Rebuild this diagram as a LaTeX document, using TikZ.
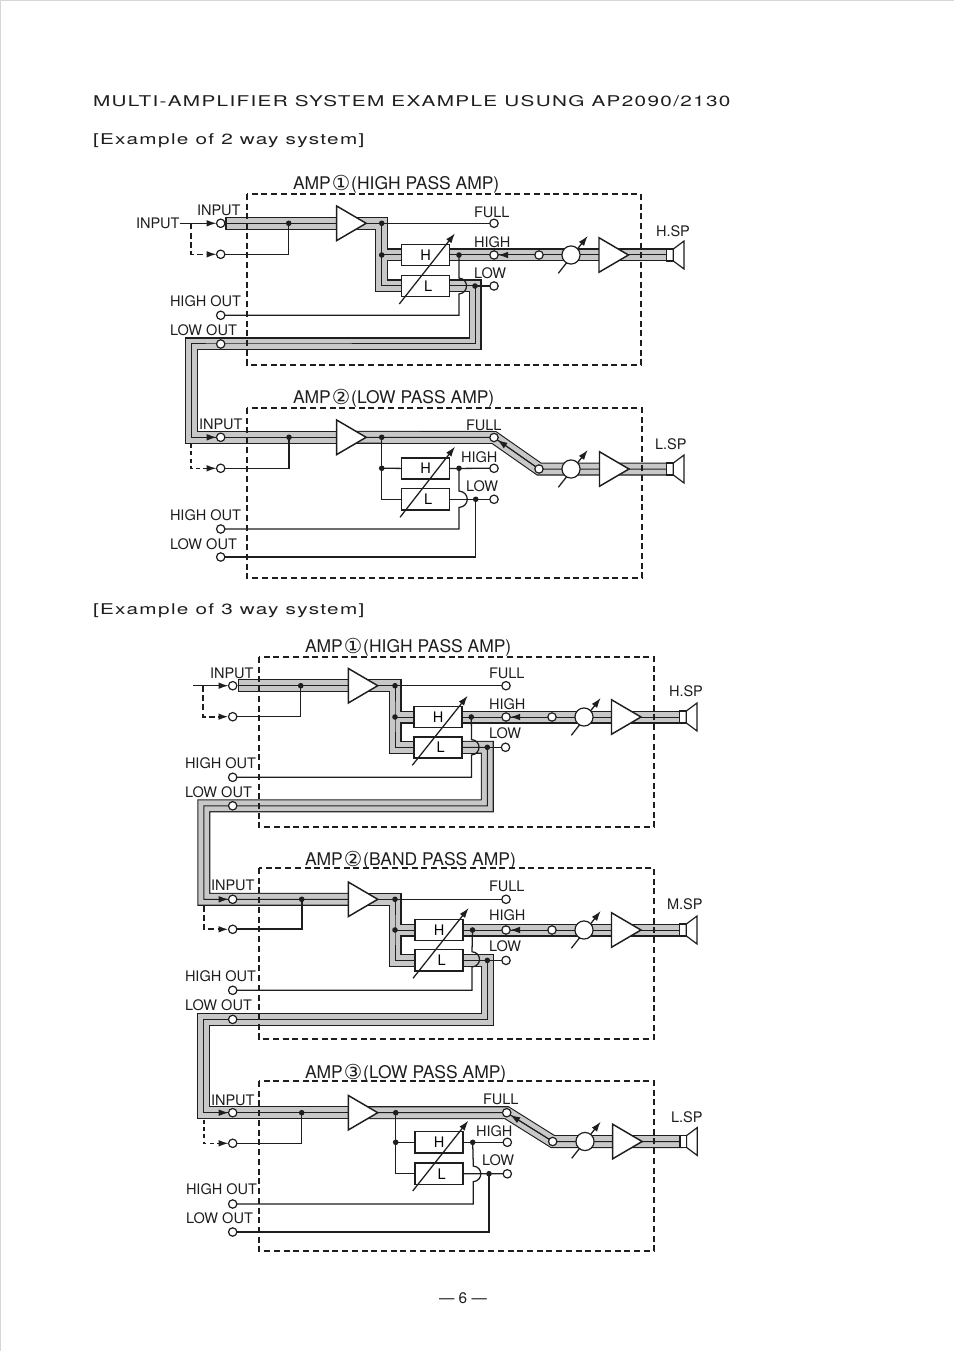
\documentclass[tikz,border=0pt]{standalone}
\usepackage{fontspec}
\usepackage{amsmath,amssymb,graphicx,xcolor}
\usetikzlibrary{arrows.meta,shapes.geometric}
\setmainfont{TeX Gyre Heros}
\newfontfamily\circfont{DejaVu Sans}
\newfontfamily\widefont[FakeStretch=1.4,LetterSpace=9]{TeX Gyre Heros}
\newcommand{\circno}[1]{\kern0.7pt\raisebox{-1pt}{\circfont\fontsize{15.5}{15}\selectfont #1}\kern0.7pt}
\pgfdeclarelayer{wires}
\pgfsetlayers{wires,main}

\begin{document}
\begin{tikzpicture}[x=0.75pt,y=0.75pt,yscale=-1,xscale=1,
  term/.style={circle,draw={rgb,255:red,30;green,30;blue,30},fill=white,line width=0.9pt,minimum size=6.3pt,inner sep=0pt,outer sep=0pt},
  pot/.style={term,minimum size=13.6pt},
  jdot/.style={circle,fill={rgb,255:red,30;green,30;blue,30},minimum size=4.2pt,inner sep=0pt,outer sep=0pt},
  amp/.style={isosceles triangle,isosceles triangle stretches,shape border rotate=0,anchor=lower side,draw={rgb,255:red,30;green,30;blue,30},fill=white,line width=1.1pt,minimum height=22.1pt,minimum width=25.9pt,inner sep=0pt,outer sep=0pt},
  filt/.style={rectangle,draw={rgb,255:red,30;green,30;blue,30},fill=white,line width=1.1pt,minimum width=35.7pt,minimum height=16pt,inner sep=0pt,outer sep=0pt,font=\fontsize{10.9}{12}\selectfont},
  spk/.style={rectangle,draw={rgb,255:red,30;green,30;blue,30},fill=white,line width=0.9pt,minimum width=5pt,minimum height=9pt,inner sep=0pt,outer sep=0pt},
  cone/.style={draw={rgb,255:red,30;green,30;blue,30},fill=white,line width=0.9pt},
  bus/.style={draw={rgb,255:red,30;green,30;blue,30},line width=0.75pt,preaction={draw={rgb,255:red,30;green,30;blue,30},line width=9.75pt},preaction={draw={rgb,255:red,200;green,200;blue,200},line width=8.1pt}},
  wire/.style={draw={rgb,255:red,30;green,30;blue,30},line width=0.95pt},
  wiretip/.style={-{Latex[length=7.5pt,width=5pt]}},
  bustip/.style={wire,wiretip,line width=0.75pt},
  frame/.style={draw={rgb,255:red,30;green,30;blue,30},line width=1.3pt,dash pattern=on 4.5pt off 2.8pt},
  thinframe/.style={frame,line width=0.8pt},
  lbl/.style={anchor=base west,inner sep=0pt,outer sep=0pt,text={rgb,255:red,30;green,30;blue,30},font=\fontsize{10.9}{12}\selectfont},
  ttl/.style={lbl,font=\fontsize{13.1}{15}\selectfont},
  heading/.style={lbl,font=\widefont\fontsize{11.1}{13}\selectfont}
]
\useasboundingbox (0,0) rectangle (954,1351);

\draw [color={rgb,255:red,215;green,215;blue,215},line width=0.9pt] (0.5,1351) -- (0.5,0.5) -- (954,0.5) ;

\node [heading] (headmain) at (93,106.7) {MULTI-AMPLIFIER SYSTEM EXAMPLE USUNG AP2090/2130};

\node [heading] (headtwo) at (93,145) {[Example of 2 way system]};

\node [heading] (headthree) at (93,614.5) {[Example of 3 way system]};

\node [lbl,anchor=base,font=\fontsize{11.5}{13}\selectfont] (pageno) at (463,1303) {— 6 —};

\draw [frame] (247,194) rectangle (641,365) ;

\draw [thinframe] (247,408) rectangle (642,578) ;

\draw [frame] (259,657) rectangle (654,827) ;

\draw [frame] (259,868) rectangle (654,1039) ;

\draw [thinframe] (259,1081) rectangle (654,1251) ;

\node [ttl] (titlea) at (293,189.5) {AMP\circno{①}(HIGH PASS AMP)};

\node [lbl] (lblina) at (136,228.5) {INPUT};

\node [lbl] (lblinputa) at (197,216) {INPUT};

\node [lbl] (lblhoa) at (170,306.5) {HIGH OUT};

\node [lbl] (lblloa) at (170,335.5) {LOW OUT};

\node [lbl] (lblfua) at (474,218) {FULL};

\node [lbl] (lblhia) at (474,248) {HIGH};

\node [lbl] (lbllwa) at (474,279) {LOW};

\node [lbl] (lblspa) at (656,236.5) {H.SP};

\node [term] (ina) at (220.7,223.3) {};

\node [term] (sela) at (220.7,254.3) {};

\node [term] (hoa) at (220.7,315.3) {};

\node [term] (loa) at (220.7,344) {};

\node [term] (fua) at (494,223.3) {};

\node [term] (hia) at (494,255) {};

\node [term] (lwa) at (494,286) {};

\node [term] (joina) at (539,255) {};

\node [pot] (pota) at (571,255) {};

\node [amp] (ampa) at (336.7,223.3) {};

\node [amp] (pwra) at (599,255) {};

\node [filt] (boxha) at (425.5,255) {H};

\node [filt] (boxla) at (425.5,286) {\kern4pt L};

\node [spk] (spa) at (670,255) {};

\draw [cone] (spa.north east) -- ++(10.7,-8) -- ++(0,28) -- (spa.south east) -- cycle ;

\node [jdot] (dina) at (288.7,223.3) {};

\node [jdot] (dampa) at (381.7,223.3) {};

\node [jdot] (dsplita) at (381.7,255) {};

\node [jdot] (dha) at (459,255) {};

\node [jdot] (dla) at (475,286) {};

\coordinate (busa) at (226,223.3);

\coordinate (dasha) at (191,223.3);

\coordinate (turna) at (191.3,344);

\coordinate (potsa) at (558.3,273.3);

\coordinate (potea) at (587.7,236);

\coordinate (slantsa) at (399.3,304);

\coordinate (slantea) at (455,233.3);

\coordinate (jsa) at (459,278);

\coordinate (jea) at (459,294);

\draw [wire,wiretip] (slantsa) -- (slantea) ;

\node [ttl] (titleb) at (293,403) {AMP\circno{②}(LOW PASS AMP)};

\node [lbl] (lblinputb) at (199,429) {INPUT};

\node [lbl] (lblhob) at (170,520) {HIGH OUT};

\node [lbl] (lbllob) at (170,549) {LOW OUT};

\node [lbl] (lblfub) at (466,430) {FULL};

\node [lbl] (lblhib) at (461,462) {HIGH};

\node [lbl] (lbllwb) at (466,491) {LOW};

\node [lbl] (lblspb) at (655,449) {L.SP};

\node [term] (inb) at (220.7,437.3) {};

\node [term] (selb) at (220.7,468.3) {};

\node [term] (hob) at (220.7,529) {};

\node [term] (lob) at (220.7,557) {};

\node [term] (fub) at (494,437.5) {};

\node [term] (hib) at (494,468.3) {};

\node [term] (lwb) at (494,499.3) {};

\node [term] (joinb) at (539,469) {};

\node [pot] (potb) at (571,469) {};

\node [amp] (ampb) at (336.7,437.3) {};

\node [amp] (pwrb) at (599.5,469) {};

\node [filt] (boxhb) at (425.5,468.5) {H};

\node [filt] (boxlb) at (425.5,499.3) {\kern4pt L};

\node [spk] (spb) at (670,469) {};

\draw [cone] (spb.north east) -- ++(10.7,-8) -- ++(0,28) -- (spb.south east) -- cycle ;

\node [jdot] (dinb) at (289,437.3) {};

\node [jdot] (dampb) at (381.7,437.3) {};

\node [jdot] (dsplitb) at (381.7,468.3) {};

\node [jdot] (dhb) at (459,468.3) {};

\node [jdot] (dlb) at (475.7,499.3) {};

\coordinate (dashb) at (191,444);

\coordinate (potsb) at (558.3,487.3);

\coordinate (poteb) at (587.7,450);

\coordinate (slantsb) at (400,517.3);

\coordinate (slanteb) at (455,446.7);

\coordinate (jsb) at (459,491);

\coordinate (jeb) at (459,507.5);

\draw [wire,wiretip] (slantsb) -- (slanteb) ;

\node [ttl] (titlec) at (305,652) {AMP\circno{①}(HIGH PASS AMP)};

\node [lbl] (lblinputc) at (210,678) {INPUT};

\node [lbl] (lblhoc) at (185,768) {HIGH OUT};

\node [lbl] (lblloc) at (185,797) {LOW OUT};

\node [lbl] (lblfuc) at (489,678) {FULL};

\node [lbl] (lblhic) at (489,709) {HIGH};

\node [lbl] (lbllwc) at (489,738) {LOW};

\node [lbl] (lblspc) at (669,696) {H.SP};

\node [term] (inc) at (232.7,685.7) {};

\node [term] (selc) at (232.7,716.7) {};

\node [term] (hoc) at (232.7,777.3) {};

\node [term] (loc) at (232.7,805.8) {};

\node [term] (fuc) at (506,685.7) {};

\node [term] (hic) at (506,717) {};

\node [term] (lwc) at (505.5,747.3) {};

\node [term] (joinc) at (552,717) {};

\node [pot] (potc) at (584,717) {};

\node [amp] (ampc) at (348.3,685.7) {};

\node [amp] (pwrc) at (611.5,717) {};

\node [filt] (boxhc) at (438,717) {H};

\node [filt] (boxlc) at (438,747.5) {\kern4pt L};

\node [spk] (spc) at (683,717) {};

\draw [cone] (spc.north east) -- ++(10.7,-8) -- ++(0,28) -- (spc.south east) -- cycle ;

\node [jdot] (dinc) at (300.7,685.7) {};

\node [jdot] (dampc) at (395,685.7) {};

\node [jdot] (dsplitc) at (395,717) {};

\node [jdot] (dhc) at (471.3,717) {};

\node [jdot] (dlc) at (487.3,747.3) {};

\coordinate (busc) at (238.3,685.7);

\coordinate (startc) at (193.3,685.7);

\coordinate (dashc) at (202.7,685.7);

\coordinate (turnc) at (203.8,805.8);

\coordinate (potsc) at (571.3,735.3);

\coordinate (potec) at (600.7,698);

\coordinate (slantsc) at (412.3,765.3);

\coordinate (slantec) at (467.7,695.7);

\coordinate (jsc) at (471.5,739.5);

\coordinate (jec) at (471.5,755);

\draw [wire,wiretip] (slantsc) -- (slantec) ;

\node [ttl] (titled) at (305,865) {AMP\circno{②}(BAND PASS AMP)};

\node [lbl] (lblinputd) at (211,890) {INPUT};

\node [lbl] (lblhod) at (185,981) {HIGH OUT};

\node [lbl] (lbllod) at (185,1010) {LOW OUT};

\node [lbl] (lblfud) at (489,891) {FULL};

\node [lbl] (lblhid) at (489,920) {HIGH};

\node [lbl] (lbllwd) at (489,951) {LOW};

\node [lbl] (lblspd) at (667,909) {M.SP};

\node [term] (ind) at (232.7,899.3) {};

\node [term] (seld) at (232.7,929.3) {};

\node [term] (hod) at (232.7,990.3) {};

\node [term] (lod) at (232.7,1019.4) {};

\node [term] (fud) at (506,899.3) {};

\node [term] (hid) at (506,930) {};

\node [term] (lwd) at (506,960.4) {};

\node [term] (joind) at (552,930) {};

\node [pot] (potd) at (584,930) {};

\node [amp] (ampd) at (348.3,899.3) {};

\node [amp] (pwrd) at (611.5,930) {};

\node [filt] (boxhd) at (439,930) {H};

\node [filt] (boxld) at (439,960.4) {\kern4pt L};

\node [spk] (spd) at (683,930) {};

\draw [cone] (spd.north east) -- ++(10.7,-8) -- ++(0,28) -- (spd.south east) -- cycle ;

\node [jdot] (dind) at (301.7,899.3) {};

\node [jdot] (dampd) at (395,899.3) {};

\node [jdot] (dsplitd) at (395,930) {};

\node [jdot] (dhd) at (472.5,930) {};

\node [jdot] (dld) at (487.3,960.4) {};

\coordinate (dashd) at (204,905.5);

\coordinate (turnd) at (203.8,1019.4);

\coordinate (potsd) at (571.3,948.3);

\coordinate (poted) at (600.7,911);

\coordinate (slantsd) at (413,978.3);

\coordinate (slanted) at (468.7,908);

\coordinate (jsd) at (472,951.7);

\coordinate (jed) at (472,967);

\draw [wire,wiretip] (slantsd) -- (slanted) ;

\node [ttl] (titlee) at (305,1078) {AMP\circno{③}(LOW PASS AMP)};

\node [lbl] (lblinpute) at (211,1105) {INPUT};

\node [lbl] (lblhoe) at (186,1194) {HIGH OUT};

\node [lbl] (lblloe) at (186,1223) {LOW OUT};

\node [lbl] (lblfue) at (483,1104) {FULL};

\node [lbl] (lblhie) at (476,1136) {HIGH};

\node [lbl] (lbllwe) at (482,1165) {LOW};

\node [lbl] (lblspe) at (671,1122) {L.SP};

\node [term] (ine) at (232.7,1112.7) {};

\node [term] (sele) at (232.7,1143.3) {};

\node [term] (hoe) at (232.7,1204) {};

\node [term] (loe) at (232.7,1232) {};

\node [term] (fue) at (506.7,1112.7) {};

\node [term] (hie) at (507.3,1142.3) {};

\node [term] (lwe) at (507.3,1173.8) {};

\node [term] (joine) at (552.7,1141.5) {};

\node [pot] (pote) at (585,1141.5) {};

\node [amp] (ampe) at (348.3,1112.7) {};

\node [amp] (pwre) at (612.7,1141.5) {};

\node [filt] (boxhe) at (439,1142.3) {H};

\node [filt] (boxle) at (439,1173.7) {\kern4pt L};

\node [spk] (spe) at (683.3,1141.5) {};

\draw [cone] (spe.north east) -- ++(10.7,-8) -- ++(0,28) -- (spe.south east) -- cycle ;

\node [jdot] (dine) at (301.7,1112.7) {};

\node [jdot] (dampe) at (395.7,1112.7) {};

\node [jdot] (dsplite) at (395.7,1142.3) {};

\node [jdot] (dhe) at (472.7,1142.3) {};

\node [jdot] (dle) at (489,1173.7) {};

\coordinate (dashe) at (204,1119.5);

\coordinate (potse) at (571.7,1158.3);

\coordinate (potee) at (600.7,1121.7);

\coordinate (slantse) at (412.7,1191);

\coordinate (slantee) at (468.3,1120.7);

\coordinate (jse) at (473.3,1166);

\coordinate (jee) at (473.3,1181.7);

\draw [wire,wiretip] (slantse) -- (slantee) ;

\begin{pgfonlayer}{wires}

\draw [bus] (busa) -- (ampa.center) ;

\draw [bus] (ampa.center) -- (dampa.center) -- (dsplita.center) |- (boxla.center) (dsplita.center) -- (boxha.center) ;

\draw [bus] (boxha.center) -- (spa.center) ;

\draw [bus] (boxla.center) -- (dla.center) |- (loa.center) -- (turna) |- (inb.center) -- (ampb.center) ;

\draw [bus] (ampb.center) -- (fub.center) -- (joinb.center) -- (spb.center) ;

\draw [bus] (busc) -- (ampc.center) ;

\draw [bus] (ampc.center) -- (dampc.center) -- (dsplitc.center) |- (boxlc.center) (dsplitc.center) -- (boxhc.center) ;

\draw [bus] (boxhc.center) -- (spc.center) ;

\draw [bus] (boxlc.center) -- (dlc.center) |- (loc.center) -- (turnc) |- (ind.center) -- (ampd.center) ;

\draw [bus] (ampd.center) -- (dampd.center) -- (dsplitd.center) |- (boxld.center) (dsplitd.center) -- (boxhd.center) ;

\draw [bus] (boxhd.center) -- (spd.center) ;

\draw [bus] (boxld.center) -- (dld.center) |- (lod.center) -- (turnd) |- (ine.center) -- (ampe.center) ;

\draw [bus] (ampe.center) -- (fue.center) -- (joine.center) -- (spe.center) ;

\draw [wire] (226,217) -- (226,230) ;

\draw [wire] (238.3,679.4) -- (238.3,692) ;

\draw [wire,wiretip] (lblina.east |- ina) -- (ina) ;

\draw [wire,dash pattern=on 4.5pt off 2.5pt,wiretip] (dasha) |- (sela) ;

\draw [wire] (dina.center) |- (sela.center) ;

\draw [wire] (dampa.center) -- (fua.center) ;

\draw [bustip] (joina.center) -- (hia) ;

\draw [wire] (dla.center) -- (lwa.center) ;

\draw [wire] (dha.center) -- (jsa) .. controls +(10,1) and +(10,-1) .. (jea) |- (hoa.center) ;

\draw [wire,wiretip] (potsa) -- (potea) ;

\draw [bustip] (turna |- inb) -- (inb) ;

\draw [wire,dash pattern=on 3pt off 2.5pt,wiretip] (dashb) |- (selb) ;

\draw [wire] (dinb.center) |- (selb.center) ;

\draw [wire] (dampb.center) |- (boxlb.center) ;

\draw [wire] (dsplitb.center) -- (boxhb.center) ;

\draw [wire] (boxhb.center) -- (hib.center) ;

\draw [wire] (boxlb.center) -- (lwb.center) ;

\draw [bustip] (joinb.center) -- (fub) ;

\draw [wire] (dlb.center) |- (lob.center) ;

\draw [wire] (dhb.center) -- (jsb) .. controls +(11,1) and +(11,-1) .. (jeb) |- (hob.center) ;

\draw [wire,wiretip] (potsb) -- (poteb) ;

\draw [wire,wiretip] (startc) -- (inc) ;

\draw [wire,dash pattern=on 4.5pt off 2.5pt,line width=1.3pt,wiretip] (dashc) |- (selc) ;

\draw [wire] (dinc.center) |- (selc.center) ;

\draw [wire] (dampc.center) -- (fuc.center) ;

\draw [bustip] (joinc.center) -- (hic) ;

\draw [wire] (dlc.center) -- (lwc.center) ;

\draw [wire] (dhc.center) -- (jsc) .. controls +(10,1) and +(10,-1) .. (jec) |- (hoc.center) ;

\draw [wire,wiretip] (potsc) -- (potec) ;

\draw [bustip] (turnc |- ind) -- (ind) ;

\draw [wire,dash pattern=on 4.5pt off 2.5pt,line width=1.3pt,wiretip] (dashd) |- (seld) ;

\draw [wire,line width=1.3pt] (dind.center) |- (seld.center) ;

\draw [wire] (dampd.center) -- (fud.center) ;

\draw [bustip] (joind.center) -- (hid) ;

\draw [wire] (dld.center) -- (lwd.center) ;

\draw [wire] (dhd.center) -- (jsd) .. controls +(10,1) and +(10,-1) .. (jed) |- (hod.center) ;

\draw [wire,wiretip] (potsd) -- (poted) ;

\draw [bustip] (turnd |- ine) -- (ine) ;

\draw [wire,dash pattern=on 3pt off 2.5pt,wiretip] (dashe) |- (sele) ;

\draw [wire] (dine.center) |- (sele.center) ;

\draw [wire] (dampe.center) |- (boxle.center) ;

\draw [wire] (dsplite.center) -- (boxhe.center) ;

\draw [wire] (boxhe.center) -- (hie.center) ;

\draw [wire] (boxle.center) -- (lwe.center) ;

\draw [bustip] (joine.center) -- (fue) ;

\draw [wire] (dle.center) |- (loe.center) ;

\draw [wire] (dhe.center) -- (jse) .. controls +(10,1) and +(10,-1) .. (jee) |- (hoe.center) ;

\draw [wire,wiretip] (potse) -- (potee) ;

\end{pgfonlayer}

\end{tikzpicture}
\end{document}
